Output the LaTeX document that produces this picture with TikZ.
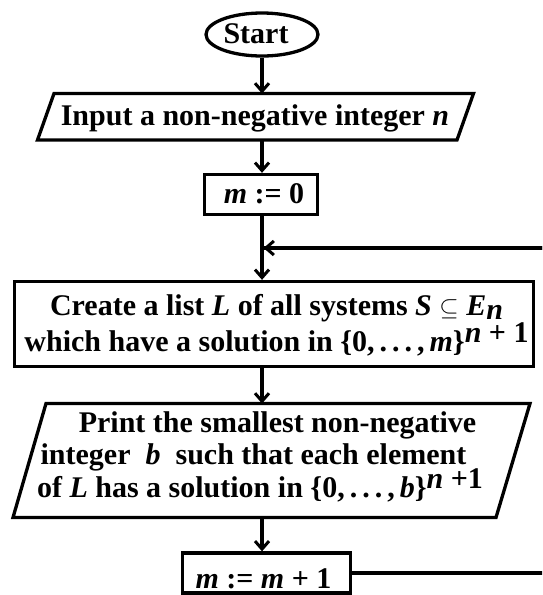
\documentclass[tikz,border=0pt]{standalone}
\usepackage{fontspec}
\setmainfont{Liberation Serif}
\usetikzlibrary{arrows.meta,shapes.geometric}
\begin{document}
\begin{tikzpicture}[x=1pt,y=-1pt,line width=3.3pt,
  txt/.style={inner sep=0pt,anchor=base,font=\fontsize{30}{33}\selectfont\bfseries},
  flow/.style={-{Straight Barb[length=8pt,width=14pt,line width=3pt]},line width=3.2pt},
  plain/.style={line width=3.2pt}]
\fill[white] (0,0) rectangle (542,595);
\clip (0,0) rectangle (542,595);
% Start
\node[ellipse,draw,minimum width=112pt,minimum height=43pt,inner sep=0pt] (start) at (262,34.5) {};
\node[txt] (starttxt) at (256,43) {Start};
% Input parallelogram
\draw (54,93.5) coordinate (inTL) -- (473.5,93.5) coordinate (inTR) -- (457,140) -- (37.5,140) -- cycle;
\coordinate (inTop) at (262,93.5);
\coordinate (inBot) at (262,140);
\node[txt] (intxt) at (255,125) {Input a non-negative integer \textit{n}};
% m := 0
\node[draw,minimum width=113pt,minimum height=40pt,inner sep=0pt] (m0) at (261,194.5) {};
\node[txt] (m0txt) at (264,203) {\textit{m} := 0};
% Create box
\node[draw,minimum width=519pt,minimum height=85pt,inner sep=0pt] (create) at (274,324) {};
\node[txt] (cr1) at (276.5,315) {Create a list \textit{L} of all systems \textit{S} {\mdseries$\subseteq$} \textit{E}\raisebox{-4pt}[0pt][0pt]{\textit{n}}};
\node[txt] (cr2) at (276.5,351) {which have a solution in \{0,\,.\,.\,.\,,\,\textit{m}\}\raisebox{9pt}[0pt][0pt]{\textit{n} + 1}};
% Print parallelogram
\draw (46,403.5) -- (530,403.5) -- (496,517.5) -- (13,517.5) -- cycle;
\coordinate (prTop) at (262,403.5);
\coordinate (prBot) at (262,517.5);
\node[txt] (pr1) at (277.5,432) {Print the smallest non-negative};
\node[txt] (pr2) at (253.5,464) {integer\ \ \textit{b}\ \ such that each element};
\node[txt] (pr3) at (260,497) {of \textit{L} has a solution in \{0,\,.\,.\,.\,,\,\textit{b}\}\raisebox{9pt}[0pt][0pt]{\textit{n} +1}};
% m := m + 1
\node[draw,minimum width=168pt,minimum height=40pt,inner sep=0pt] (m1) at (266.5,573) {};
\node[txt] (m1txt) at (263.5,588) {\textit{m} := \textit{m} + 1};
% connectors
\coordinate (join) at (262,248);
\coordinate (loopA) at (570,573);
\coordinate (loopB) at (570,248);
\draw[flow] (start.south -| inTop) -- (inTop);
\draw[flow] (inBot) -- (inBot |- m0.north);
\draw[flow] (m0.south -| inTop) -- (inTop |- create.north);
\draw[flow] (create.south -| inTop) -- (prTop);
\draw[flow] (prBot) -- (prBot |- m1.north);
\draw[plain] (m1.east) -- (loopA) -- (loopB) -- (join);
\draw[flow] (loopB) -- ([xshift=1.6pt]join);
\end{tikzpicture}
\end{document}
